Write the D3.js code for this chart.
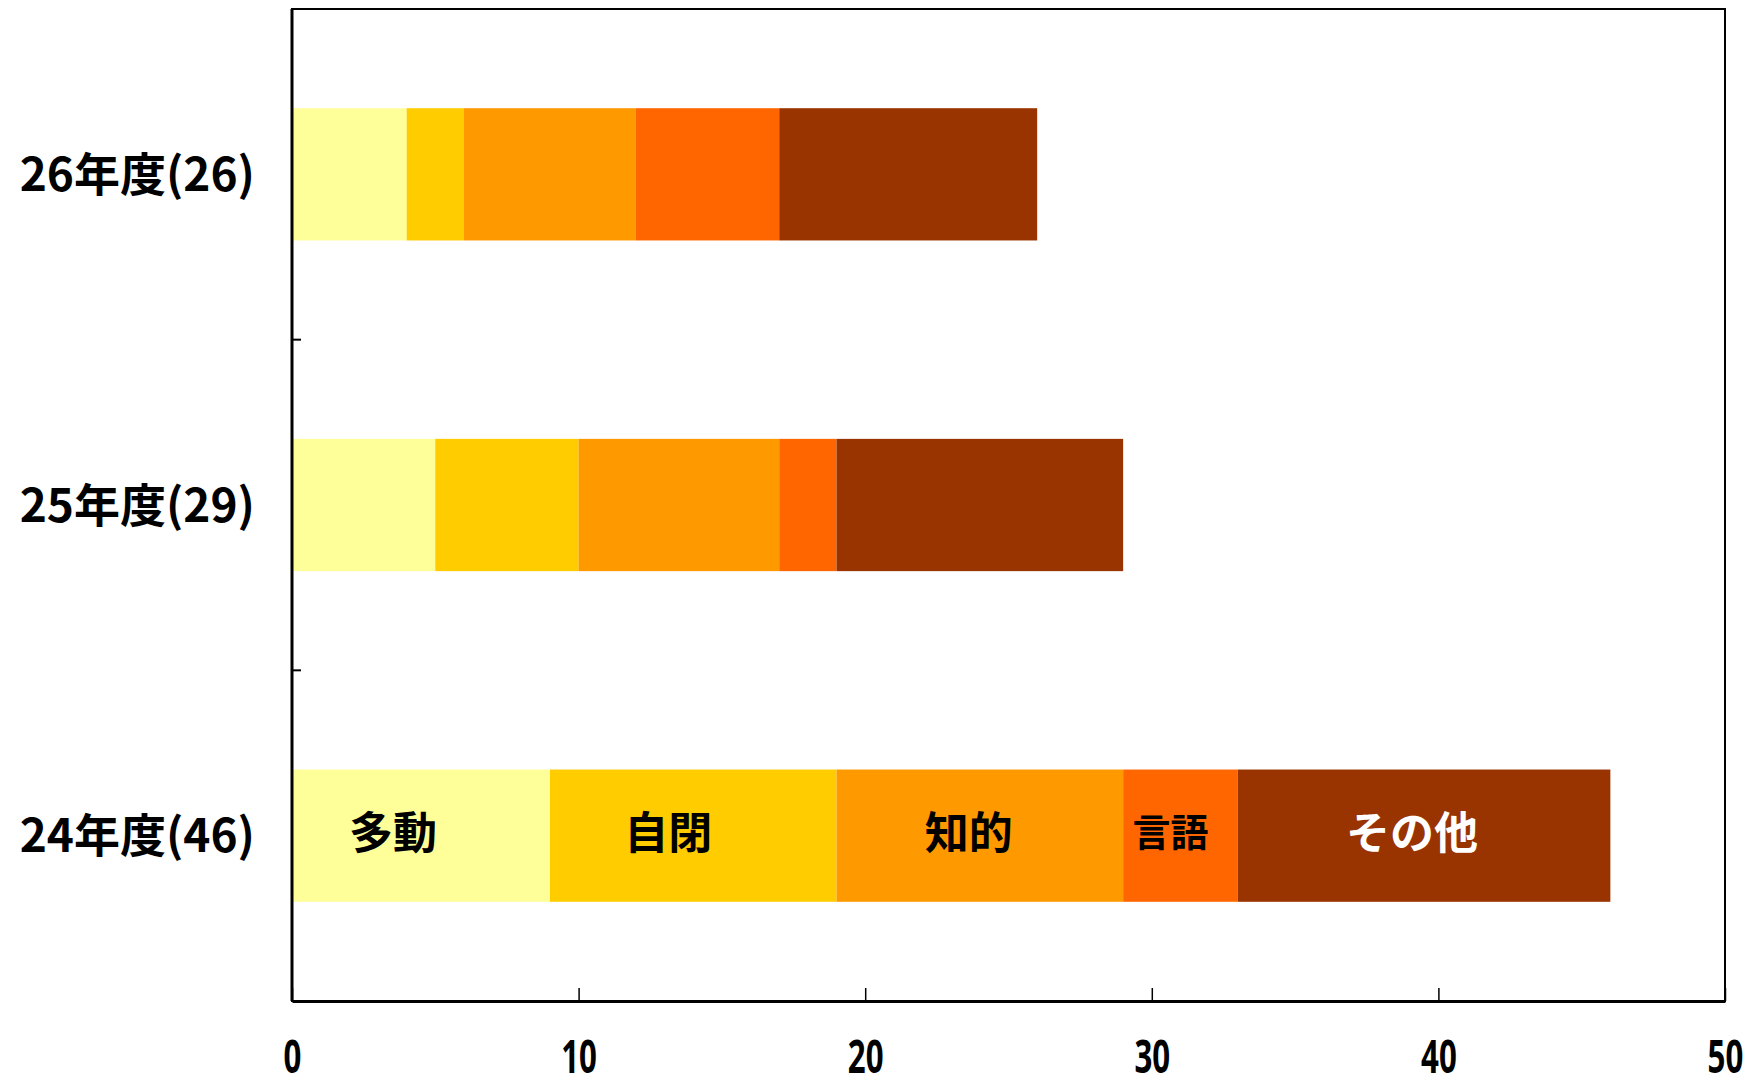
<!DOCTYPE html>
<html>
<head>
<meta charset="utf-8">
<script src="https://cdn.jsdelivr.net/npm/d3@7"></script>
<style>
  body { margin: 0; background: #fff; }
  text { font-weight: bold; }
</style>
</head>
<body>
<div id="chart"></div>
<script>
// data
const years = ['26年度(26)', '25年度(29)', '24年度(46)'];
const types = ['多動', '自閉', '知的', '言語', 'その他'];
const tadou  = [4, 5, 9];
const jihei  = [2, 5, 10];
const chiteki = [6, 7, 10];
const gengo  = [5, 2, 4];
const sonota = [9, 10, 13];
const xTicks = [0, 10, 20, 30, 40, 50];
const colors = ['#FFFF99', '#FFCC00', '#FF9900', '#FF6600', '#993300'];

const margin = {top: 9, right: 27, bottom: 85, left: 292};
const W = 1752, H = 1086;
const width = W - margin.left - margin.right;
const height = H - margin.top - margin.bottom;

const rows = years.map((y, i) => ({
  year: y,
  '多動': tadou[i], '自閉': jihei[i], '知的': chiteki[i], '言語': gengo[i], 'その他': sonota[i]
}));
const series = d3.stack().keys(types)(rows);

const svg = d3.select('#chart').append('svg')
  .attr('width', W).attr('height', H)
  .append('g')
  .attr('transform', `translate(${margin.left},${margin.top})`);

const x = d3.scaleLinear().domain([0, 50]).range([0, width]);
const y = d3.scaleBand().domain(years).range([0, height]).paddingInner(0.6).paddingOuter(0.3);
const color = d3.scaleOrdinal().domain(types).range(colors);

// bars
svg.append('g')
  .selectAll('g')
  .data(series)
  .enter().append('g')
    .attr('fill', d => color(d.key))
  .selectAll('rect')
  .data(d => d)
  .enter().append('rect')
    .attr('x', d => x(d[0]))
    .attr('y', d => y(d.data.year))
    .attr('width', d => x(d[1]) - x(d[0]))
    .attr('height', y.bandwidth());

// segment labels only on the bottom bar (sit a bit left of centre)
const last = years[years.length - 1];
const nudge = {'多動': -28, '自閉': -25, '知的': -11, '言語': -10, 'その他': -12};
svg.append('g')
  .selectAll('text')
  .data(series)
  .enter().append('text')
    .attr('x', s => { const d = s.find(v => v.data.year === last); return (x(d[0]) + x(d[1])) / 2 + nudge[s.key]; })
    .attr('y', y(last) + y.bandwidth() / 2 - 3)
    .attr('dy', '0.36em')
    .attr('text-anchor', 'middle')
    .style('font-family', '"Noto Sans CJK JP", sans-serif')
    .style('font-size', s => s.key === '言語' ? '38px' : '44px')
    .style('fill', s => s.key === 'その他' ? '#fff' : '#000')
    .text(s => s.key);

// frame
svg.append('rect')
  .attr('width', width).attr('height', height)
  .attr('fill', 'none').attr('stroke', '#000').attr('stroke-width', 2);

// x axis, ticks pointing inward
const xAxis = svg.append('g')
  .attr('transform', `translate(0,${height})`)
  .call(d3.axisBottom(x).tickValues(xTicks).tickSizeInner(-13).tickSizeOuter(0).tickPadding(39));
xAxis.select('.domain').attr('stroke-width', 3);
xAxis.selectAll('.tick line').attr('stroke-width', 1.5);
xAxis.selectAll('text')
  .style('font-family', '"Noto Sans", sans-serif')
  .style('font-size', '46px')
  .attr('transform', 'scale(0.68,1)')
  .attr('fill', '#000');

// y axis: ticks between the bands
const yAxis = svg.append('g');
yAxis.append('line')
  .attr('y1', 0).attr('y2', height)
  .attr('stroke', '#000').attr('stroke-width', 3);
const step = y.step();
yAxis.selectAll('.sep')
  .data(years.slice(1))
  .enter().append('line')
    .attr('x1', 0).attr('x2', 9)
    .attr('y1', d => y(d) - step * y.paddingInner() / 2)
    .attr('y2', d => y(d) - step * y.paddingInner() / 2)
    .attr('stroke', '#000').attr('stroke-width', 2);
yAxis.selectAll('.lab')
  .data(years)
  .enter().append('text')
    .attr('x', -37)
    .attr('y', d => y(d) + y.bandwidth() / 2)
    .attr('dy', '0.36em')
    .attr('text-anchor', 'end')
    .style('font-family', '"Noto Sans CJK JP", sans-serif')
    .style('font-size', '46px')
    .text(d => d);
</script>
</body>
</html>
